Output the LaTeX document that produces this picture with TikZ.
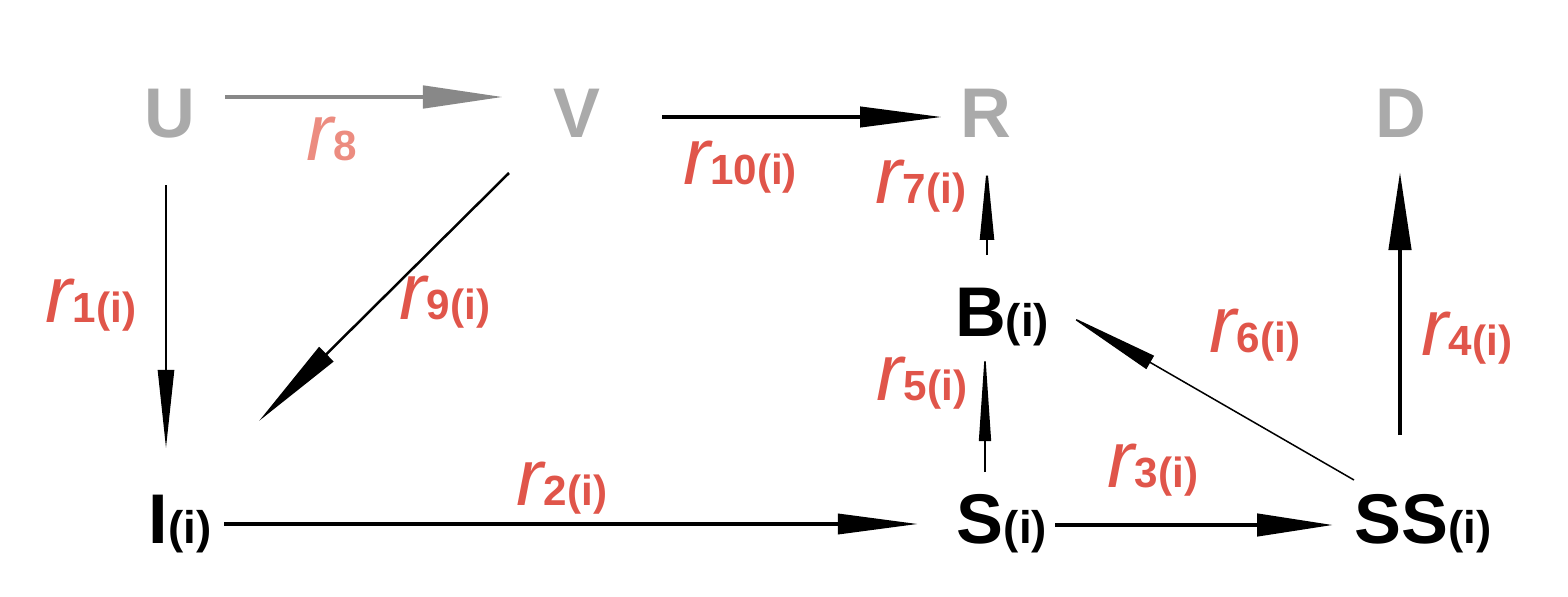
\documentclass[tikz,border=0pt]{standalone}
\usepackage{fontspec}
\setmainfont{Liberation Sans}
\usetikzlibrary{arrows.meta}
\definecolor{ratered}{HTML}{E0554A}
\definecolor{ratepale}{HTML}{EC8C80}
\definecolor{poolgray}{HTML}{AAAAAA}
\definecolor{flowgray}{HTML}{888888}
\newcommand{\pool}[2]{{\fontsize{20}{20}\selectfont\bfseries #1}{\fontsize{13}{13}\selectfont\bfseries #2}}
\newcommand{\rate}[1]{{\fontsize{23}{23}\selectfont\itshape r}{\fontsize{12}{12}\selectfont\bfseries #1}}
\tikzset{>=latex}

\begin{document}
\begin{tikzpicture}[x=0.01cm, y=-0.01cm,
			every node/.style={inner sep=0pt, outer sep=0pt, anchor=base},
			outside/.style={text=poolgray},
			label/.style={text=ratered},
			flowhead/.style 2 args={-{Triangle[length=#1, width=#2]}}]
		\useasboundingbox (0,0) rectangle (1568,597);

		% pools
		\node[outside] (U) at (170,137) {\pool{U}{}};
		\node[outside] (V) at (577,137) {\pool{V}{}};
		\node[outside] (R) at (986,137) {\pool{R}{}};
		\node[outside] (D) at (1401,137) {\pool{D}{}};
		\node (B) at (1002,337) {\pool{B}{(i)}};
		\node (I) at (180,543) {\pool{I}{(i)}};
		\node (S) at (1002,543) {\pool{S}{(i)}};
		\node (SS) at (1423,543) {\pool{SS}{(i)}};

		% top row
		\draw[flowhead={22.8pt}{6.3pt}, line width=1.28pt, flowgray]
			([shift={(55,-40)}]U.base) -- ([shift={(-74,-40)}]V.base);
		\draw[flowhead={23.3pt}{5.7pt}, line width=1.14pt]
			([shift={(85,-20)}]V.base) -- ([shift={(-44,-20)}]R.base);

		% into I
		\draw[flowhead={22.2pt}{4.6pt}, line width=0.57pt]
			([shift={(-4,48)}]U.base) -- ([shift={(-14,-95)}]I.base);
		\draw[flowhead={27pt}{5.7pt}, line width=0.71pt]
			([shift={(-68,36)}]V.base) -- ([shift={(79,-122)}]I.base);

		% bottom row
		\draw[flowhead={22.8pt}{5.7pt}, line width=1pt]
			([shift={(44,-19)}]I.base) -- ([shift={(-84,-19)}]S.base);
		\draw[flowhead={21.6pt}{6.3pt}, line width=1.14pt]
			([shift={(53,-18)}]S.base) -- ([shift={(-90,-18)}]SS.base);

		% up to B, R and D
		\draw[flowhead={25.9pt}{3.4pt}, line width=0.43pt]
			([shift={(-17,-71)}]S.base) -- ([shift={(-17,13)}]B.base);
		\draw[flowhead={21.3pt}{4pt}, line width=0.57pt]
			([shift={(-15,-82)}]B.base) -- ([shift={(1,28)}]R.base);
		\draw[flowhead={27pt}{4.3pt}, line width=0.43pt]
			([shift={(-69,-63)}]SS.base) -- ([shift={(66,-22)}]B.base);
		\draw[flowhead={22.2pt}{6.3pt}, line width=1.14pt]
			([shift={(-23,-108)}]SS.base) -- ([shift={(-1,35)}]D.base);

		% rates
		\node[text=ratepale] (r8) at (332,160) {\rate{8}};
		\node[label] (r10) at (740,184) {\rate{10(i)}};
		\node[label] (r7) at (921,203) {\rate{7(i)}};
		\node[label] (r1) at (91,322) {\rate{1(i)}};
		\node[label] (r9) at (445,320) {\rate{9(i)}};
		\node[label] (r6) at (1255,353) {\rate{6(i)}};
		\node[label] (r4) at (1467,355) {\rate{4(i)}};
		\node[label] (r5) at (922,400) {\rate{5(i)}};
		\node[label] (r3) at (1153,487) {\rate{3(i)}};
		\node[label] (r2) at (562,505) {\rate{2(i)}};
	\end{tikzpicture}
\end{document}
